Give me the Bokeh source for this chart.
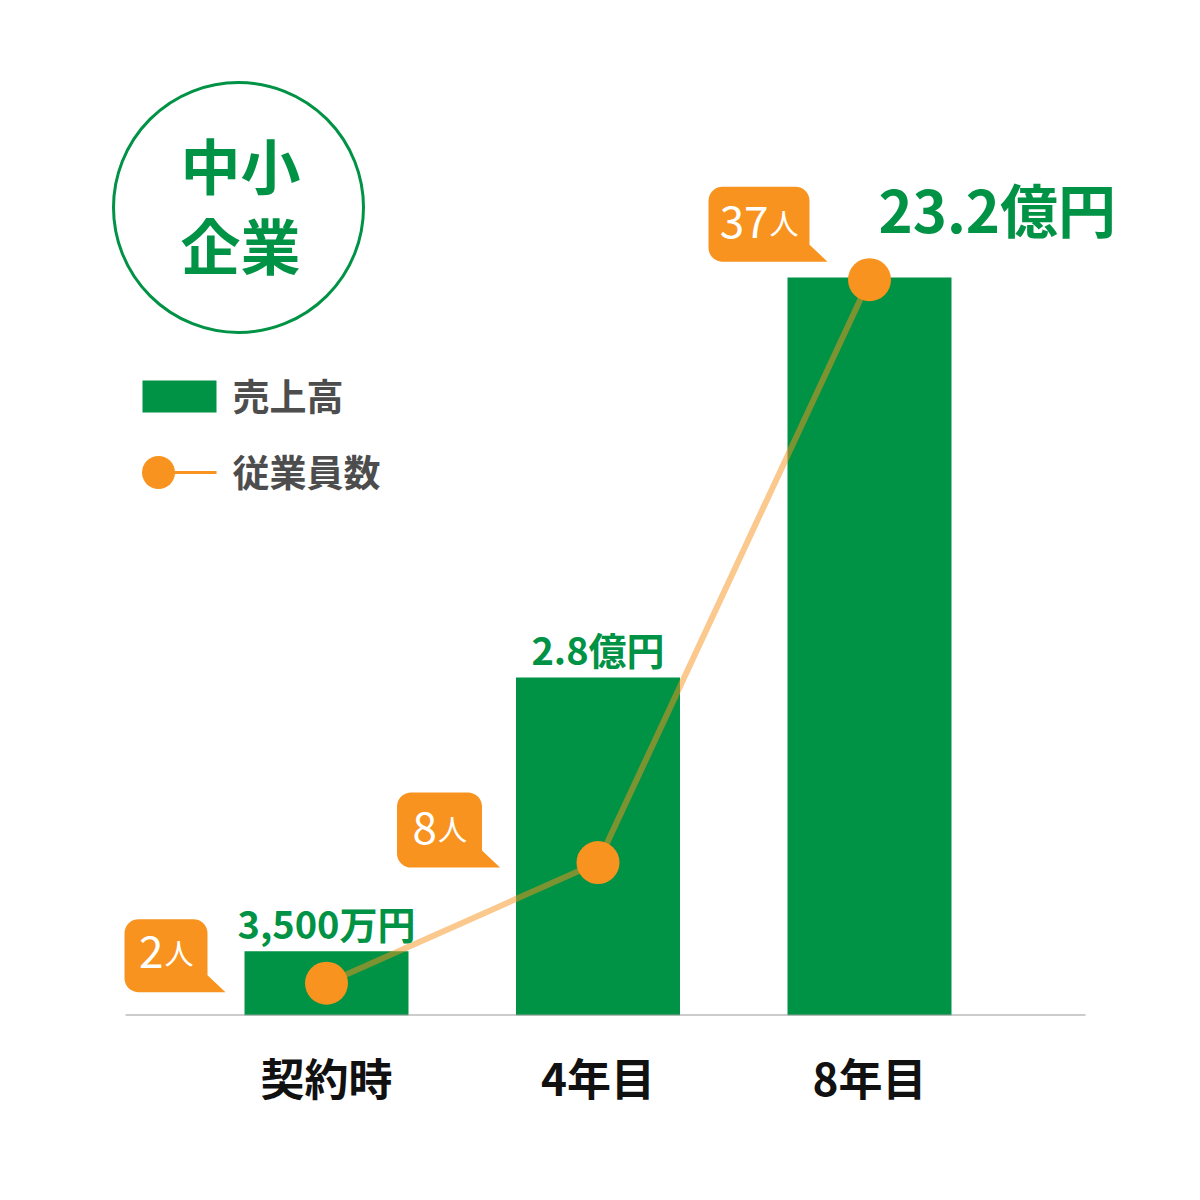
import math
from bokeh.plotting import figure
from bokeh.models import Range1d, FixedTicker
from bokeh.core.properties import value
from bokeh.embed import file_html
from bokeh.resources import INLINE

# ---------------- data ----------------
categories = ["契約時", "4年目", "8年目"]
sales_labels = ["3,500万円", "2.8億円", "23.2億円"]
sales_oku = [0.35, 2.8, 23.2]            # stated revenue (億円)
bar_heights = [8.7, 45.8, 100.0]         # bar heights as drawn (tallest = 100)
employees = [2, 8, 37]                   # 従業員数 (人)
employee_unit = "人"
title_lines = ["中小", "企業"]
legend_labels = ["売上高", "従業員数"]

# ---------------- style ----------------
GREEN = "#009245"
ORANGE = "#F7931E"
GRAY_TXT = "#4D4D4D"
FONT = value("Noto Sans CJK JP")

OFF = 0          # page offset of the figure
W = 1184
FRAME_H = 1015
BOTTOM = 169
PX_PER_CAT = 271.5
X0 = -(326 - OFF) / PX_PER_CAT
X1 = X0 + W / PX_PER_CAT
Y_END = 100 * FRAME_H / 738.0
EMP0 = 0.393
EMP1 = EMP0 + FRAME_H / 20.1


def page_to_x(px):
    return X0 + (px - OFF) / W * (X1 - X0)


def page_to_y(py):
    return (OFF + FRAME_H - py) / FRAME_H * Y_END


def x_to_page(x):
    return OFF + (x - X0) / (X1 - X0) * W


def y_to_page(y):
    return OFF + FRAME_H - y / Y_END * FRAME_H


def emp_to_page(e):
    return OFF + FRAME_H - (e - EMP0) / (EMP1 - EMP0) * FRAME_H


p = figure(width=W, height=FRAME_H + BOTTOM, output_backend="svg", toolbar_location=None,
           x_range=Range1d(X0, X1), y_range=Range1d(0, Y_END), y_axis_location=None,
           min_border=0, min_border_bottom=BOTTOM)
p.extra_y_ranges = {"emp": Range1d(EMP0, EMP1)}
p.outline_line_color = None
p.grid.visible = False
p.background_fill_color = "white"
p.border_fill_color = "white"

idx = list(range(len(categories)))

# x axis (category labels)
ax = p.xaxis[0]
ax.ticker = FixedTicker(ticks=idx)
ax.major_label_overrides = {i: c for i, c in enumerate(categories)}
ax.axis_line_color = None
ax.major_tick_line_color = None
ax.minor_tick_line_color = None
ax.major_label_text_font = "Noto Sans CJK JP"
ax.major_label_text_font_style = "bold"
ax.major_label_text_font_size = "44px"
ax.major_label_text_color = "#111111"
ax.major_label_standoff = 23

# bars
p.vbar(x=idx, top=bar_heights, bottom=0, width=0.604, fill_color=GREEN, line_color=None)

# baseline
p.segment(x0=[page_to_x(125)], y0=[0], x1=[page_to_x(1085)], y1=[0], line_color="#999999", line_width=2)

# employees line & markers
p.line(idx, employees, y_range_name="emp", line_color=ORANGE, line_alpha=0.5, line_width=6)
p.scatter(idx, employees, y_range_name="emp", size=43, fill_color=ORANGE, line_color=None)

# revenue value labels
small_x, small_y, small_t = [], [], []
for i in idx[:-1]:
    top_px = y_to_page(bar_heights[i])
    small_x.append(i)
    small_y.append(page_to_y(top_px - 29))
    small_t.append(sales_labels[i])
p.text(small_x, small_y, text=small_t, text_font=FONT, text_font_style="bold", text_font_size="38px",
       text_color=GREEN, text_align="center", text_baseline="middle")
last = idx[-1]
top_px = y_to_page(bar_heights[last])
p.text([page_to_x(x_to_page(last) + 9)], [page_to_y(top_px - 70)], text=[sales_labels[last]], text_font=FONT,
       text_font_style="bold", text_font_size="58px", text_color=GREEN, text_align="left", text_baseline="middle")

# speech bubbles for employees (box offsets in px relative to the marker: L, R, T, B)
bubble_boxes = [(-202, -119, -64, 9), (-201, -116, -70, 5), (-161, -60, -93, -18)]
bubble_split = [-163, -161, -101]
R_CORNER, TAIL_H, TAIL_W = 14, 17, 18

bx, by = [], []
dig_x, dig_y, dig_t, unit_x, unit_y = [], [], [], [], []
for i in idx:
    mx = x_to_page(i)
    my = emp_to_page(employees[i])
    L, R, T, B = bubble_boxes[i]
    L, R, T, B = mx + L, mx + R, my + T, my + B
    r = R_CORNER
    pts = []
    for a in range(180, 89, -10):
        t = math.radians(a)
        pts.append((L + r + r * math.cos(t), T + r - r * math.sin(t)))
    for a in range(90, -1, -10):
        t = math.radians(a)
        pts.append((R - r + r * math.cos(t), T + r - r * math.sin(t)))
    pts.append((R, B - TAIL_H))
    pts.append((R + TAIL_W, B))
    for a in range(270, 179, -10):
        t = math.radians(a)
        pts.append((L + r + r * math.cos(t), B - r - r * math.sin(t)))
    bx.append([page_to_x(u) for u, v in pts])
    by.append([page_to_y(v) for u, v in pts])
    dig_x.append(page_to_x(mx + bubble_split[i]))
    dig_y.append(page_to_y(B - 40))
    dig_t.append(str(employees[i]))
    unit_x.append(page_to_x(mx + bubble_split[i] + 1))
    unit_y.append(page_to_y(B - 40))

p.patches(bx, by, fill_color=ORANGE, line_color=None)
p.text(dig_x, dig_y, text=dig_t, text_font=FONT, text_font_style="normal", text_font_size="44px",
       text_color="white", text_align="right", text_baseline="alphabetic")
p.text(unit_x, unit_y, text=[employee_unit] * len(idx), text_font=FONT, text_font_style="normal",
       text_font_size="29px", text_color="white", text_align="left", text_baseline="alphabetic")

# title circle
p.scatter([page_to_x(238)], [page_to_y(207)], size=250, fill_color=None, line_color=GREEN, line_width=3)
p.text([page_to_x(240)] * 2, [page_to_y(163), page_to_y(243)], text=title_lines, text_font=FONT,
       text_font_style="bold", text_font_size="60px", text_color=GREEN, text_align="center",
       text_baseline="middle")

# legend (drawn)
p.quad(left=[page_to_x(142)], right=[page_to_x(216)], top=[page_to_y(380)], bottom=[page_to_y(412)],
       fill_color=GREEN, line_color=None)
p.segment(x0=[page_to_x(158)], y0=[page_to_y(472)], x1=[page_to_x(216)], y1=[page_to_y(472)],
          line_color=ORANGE, line_width=3)
p.scatter([page_to_x(158)], [page_to_y(472)], size=33, fill_color=ORANGE, line_color=None)
p.text([page_to_x(232)] * 2, [page_to_y(394), page_to_y(470)], text=legend_labels, text_font=FONT,
       text_font_style="bold", text_font_size="37px", text_color=GRAY_TXT, text_align="left",
       text_baseline="middle")

open("out.html", "w").write(file_html(p, INLINE))
